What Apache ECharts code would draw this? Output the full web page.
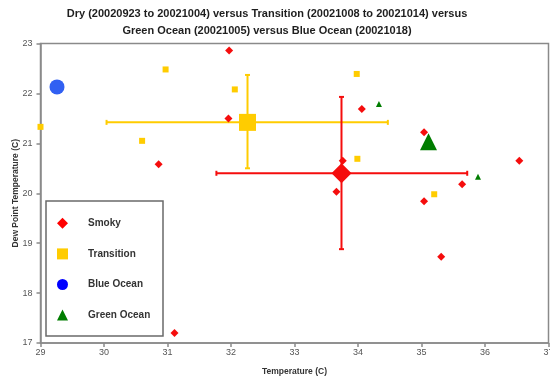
<!DOCTYPE html>
<html>
<head>
<meta charset="utf-8">
<script src="https://cdn.jsdelivr.net/npm/echarts@6/dist/echarts.min.js"></script>
<style>
html,body{margin:0;padding:0;background:#fff;}
#chart{width:550px;height:379px;}
</style>
</head>
<body>
<div id="chart"></div>
<script>
// ---- data ----
const titleLines = ['Dry (20020923 to 20021004) versus Transition (20021008 to 20021014) versus', 'Green Ocean (20021005) versus Blue Ocean (20021018)'];
const xAxisName = 'Temperature (C)';
const yAxisName = 'Dew Point Temperature (C)';
const xTicks = [29, 30, 31, 32, 33, 34, 35, 36, 37];
const yTicks = [17, 18, 19, 20, 21, 22, 23];
const seriesNames = ['Smoky', 'Transition', 'Blue Ocean', 'Green Ocean'];

const smokyX = [31.97, 31.96, 30.86, 34.06, 35.04, 33.76, 36.54, 35.64, 33.66, 35.04, 35.31, 31.11];
const smokyY = [22.86, 21.50, 20.58, 21.69, 21.22, 20.65, 20.65, 20.18, 20.03, 19.84, 18.73, 17.20];
const transitionX = [29.00, 30.97, 32.06, 30.60, 33.98, 33.99, 35.20];
const transitionY = [21.33, 22.48, 22.08, 21.05, 22.39, 20.69, 19.98];
const greenX = [34.33, 35.89];
const greenY = [21.79, 20.33];

// means with error ranges: [meanX, meanY, xLow, xHigh, yLow, yHigh]
const smokyMean = [33.74, 20.40, 31.77, 35.72, 18.88, 21.93];
const transitionMean = [32.26, 21.42, 30.04, 34.47, 20.50, 22.37];
const blueMean = [29.26, 22.13];
const greenMean = [35.11, 21.03];

// ---- chart ----
const FONT = 'Liberation Sans, Arial, sans-serif';
const RED = '#f50d0d', YEL = '#ffcc00', BLUE = '#3160f2', GREEN = '#007d00';

function zip(xs, ys) { return xs.map((x, i) => [x, ys[i]]); }

function errorBarSeries(name, mean, color) {
  return {
    type: 'custom',
    name: name + ' error',
    z: 1,
    silent: true,
    data: [mean],
    renderItem: function (params, api) {
      const c = api.coord([api.value(0), api.value(1)]);
      const xl = api.coord([api.value(2), api.value(1)]);
      const xh = api.coord([api.value(3), api.value(1)]);
      const yl = api.coord([api.value(0), api.value(4)]);
      const yh = api.coord([api.value(0), api.value(5)]);
      const cap = 2.5;
      const st = { stroke: color, lineWidth: 2 };
      return {
        type: 'group',
        children: [
          { type: 'line', shape: { x1: xl[0], y1: xl[1], x2: xh[0], y2: xh[1] }, style: st },
          { type: 'line', shape: { x1: yl[0], y1: yl[1], x2: yh[0], y2: yh[1] }, style: st },
          { type: 'line', shape: { x1: xl[0], y1: xl[1] - cap, x2: xl[0], y2: xl[1] + cap }, style: st },
          { type: 'line', shape: { x1: xh[0], y1: xh[1] - cap, x2: xh[0], y2: xh[1] + cap }, style: st },
          { type: 'line', shape: { x1: yl[0] - cap, y1: yl[1], x2: yl[0] + cap, y2: yl[1] }, style: st },
          { type: 'line', shape: { x1: yh[0] - cap, y1: yh[1], x2: yh[0] + cap, y2: yh[1] }, style: st }
        ]
      };
    }
  };
}

const solid = (color) => ({ color: color, opacity: 1 });

const chart = echarts.init(document.getElementById('chart'), null, { renderer: 'canvas' });
chart.setOption({
  animation: false,
  backgroundColor: '#ffffff',
  textStyle: { fontFamily: FONT },
  grid: {
    left: 40.5, right: 1.5, top: 43.5, bottom: 36,
    containLabel: false, outerBoundsMode: 'none',
    show: true, borderColor: '#8a8a8a', borderWidth: 1.5, backgroundColor: 'transparent'
  },
  legend: {
    orient: 'vertical',
    left: 57,
    top: 217.8,
    padding: 0,
    itemWidth: 11,
    itemHeight: 11,
    itemGap: 19.6,
    selectedMode: false,
    textStyle: { fontFamily: FONT, fontSize: 10, fontWeight: 'bold', color: '#333', lineHeight: 11, padding: [0, 0, 0, 15] },
    data: [
      { name: seriesNames[0], icon: 'diamond', itemStyle: { color: '#ff0000', opacity: 1 } },
      { name: seriesNames[1], icon: 'rect', itemStyle: { color: YEL, opacity: 1 } },
      { name: seriesNames[2], icon: 'circle', itemStyle: { color: '#0000ff', opacity: 1 } },
      { name: seriesNames[3], icon: 'triangle', itemStyle: { color: GREEN, opacity: 1 } }
    ]
  },
  graphic: [
    { type: 'rect', z: 0, shape: { x: 46, y: 201, width: 117, height: 135 },
      style: { fill: '#fff', stroke: '#6a6a6a', lineWidth: 1.5 } },
    { type: 'text', z: 10, x: 267, y: 5.5,
      style: { text: titleLines.join('\n'), textAlign: 'center', textVerticalAlign: 'top',
        fontFamily: FONT, fontSize: 11, fontWeight: 'bold', fill: '#1e1e1e', lineHeight: 17 } }
  ],
  xAxis: {
    type: 'value', min: xTicks[0], max: xTicks[xTicks.length - 1], interval: 1,
    name: xAxisName, nameLocation: 'middle', nameGap: 24, nameMoveOverlap: false,
    nameTextStyle: { fontFamily: FONT, fontSize: 8.5, fontWeight: 'bold', color: '#333' },
    axisLine: { show: true, lineStyle: { color: '#8a8a8a', width: 1.5 } },
    axisTick: { show: true, length: 4, lineStyle: { color: '#8a8a8a', width: 1.5 } },
    axisLabel: { fontSize: 9, color: '#555', margin: 5, showMaxLabel: true, showMinLabel: true },
    splitLine: { show: false }
  },
  yAxis: {
    type: 'value', min: yTicks[0], max: yTicks[yTicks.length - 1], interval: 1,
    name: yAxisName, nameLocation: 'middle', nameGap: 20.5, nameMoveOverlap: false,
    nameTextStyle: { fontFamily: FONT, fontSize: 8.5, fontWeight: 'bold', color: '#333' },
    axisLine: { show: true, lineStyle: { color: '#8a8a8a', width: 1.5 } },
    axisTick: { show: true, length: 4, lineStyle: { color: '#8a8a8a', width: 1.5 } },
    axisLabel: { fontSize: 9, color: '#555', margin: 8 },
    splitLine: { show: false }
  },
  series: [
    errorBarSeries('Transition', transitionMean, YEL),
    errorBarSeries('Smoky', smokyMean, RED),
    { type: 'scatter', name: seriesNames[0], z: 3, symbol: 'diamond', symbolSize: 8,
      itemStyle: solid(RED), data: zip(smokyX, smokyY) },
    { type: 'scatter', name: seriesNames[1], z: 3, symbol: 'rect', symbolSize: 6,
      itemStyle: solid(YEL), data: zip(transitionX, transitionY) },
    { type: 'scatter', name: seriesNames[3], z: 3, symbol: 'triangle', symbolSize: 6,
      itemStyle: solid(GREEN), data: zip(greenX, greenY) },
    { type: 'scatter', name: seriesNames[0], z: 4, symbol: 'diamond', symbolSize: 20,
      itemStyle: solid(RED), data: [smokyMean.slice(0, 2)] },
    { type: 'scatter', name: seriesNames[1], z: 4, symbol: 'rect', symbolSize: 17,
      itemStyle: solid(YEL), data: [transitionMean.slice(0, 2)] },
    { type: 'scatter', name: seriesNames[2], z: 4, symbol: 'circle', symbolSize: 15,
      itemStyle: solid(BLUE), data: [blueMean] },
    { type: 'scatter', name: seriesNames[3], z: 4, symbol: 'triangle', symbolSize: 17,
      itemStyle: solid(GREEN), data: [greenMean] }
  ]
});
</script>
</body>
</html>
